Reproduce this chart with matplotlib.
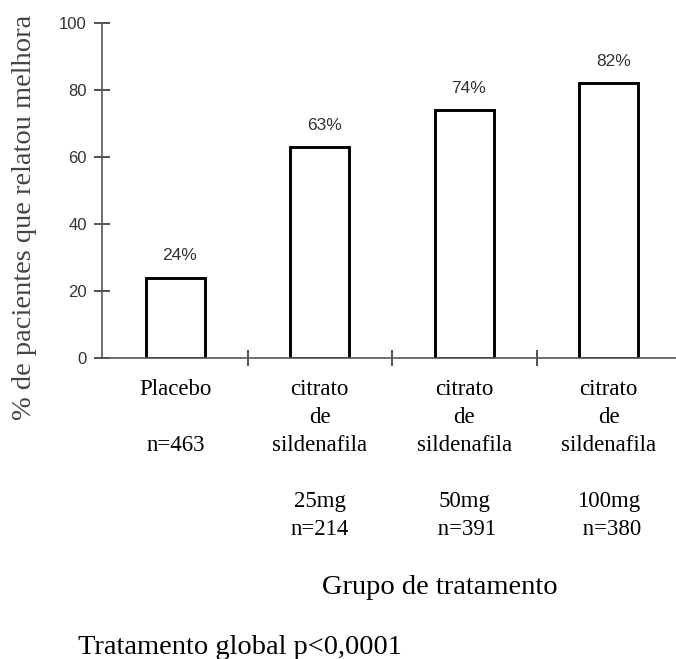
import matplotlib
matplotlib.use("Agg")
import matplotlib.pyplot as plt

# data
groups = [
    "Placebo\n\nn=463",
    "citrato\nde\nsildenafila\n\n25mg\nn=214",
    "citrato\nde\nsildenafila\n\n50mg\n n=391",
    "citrato\nde\nsildenafila\n\n100mg\n n=380",
]
improved = [24, 63, 74, 82]
value_labels = ["24%", "63%", "74%", "82%"]
yticks = [0, 20, 40, 60, 80, 100]

serif = "Liberation Serif"
sans = "Liberation Sans"
axis_gray = "#555555"

fig = plt.figure(figsize=(6.76, 6.59), dpi=100)
ax = fig.add_axes([102 / 676, 1 - 358 / 659, 1 - 102 / 676, (358 - 23) / 659])

x = list(range(len(improved)))
ax.bar(x, improved, width=0.41, color="white", edgecolor="black", linewidth=2.1, zorder=1)

for xi, v, lab in zip(x, improved, value_labels):
    ax.text(xi + 0.03, v + 6.5, lab, ha="center", va="center",
            fontsize=12.5, family=sans, color="#333333")

ax.set_xlim(-0.507, 3.465)
ax.set_ylim(0, 100)

for side in ("top", "right"):
    ax.spines[side].set_visible(False)
for side in ("left", "bottom"):
    ax.spines[side].set_color(axis_gray)
    ax.spines[side].set_linewidth(1.2)

ax.set_yticks(yticks)
ax.set_yticklabels([str(t) for t in yticks], family=sans, fontsize=12, color="#333333")
ax.tick_params(axis="y", direction="inout", length=11, width=1.2, color="#333333", pad=5.5)

# separator ticks between groups, labels at the group centres
ax.set_xticks([0.5, 1.5, 2.5])
ax.set_xticklabels([])
ax.tick_params(axis="x", which="major", direction="inout", length=12, width=1.2, color="#333333")
ax.set_xticks(x, minor=True)
ax.set_xticklabels(groups, minor=True, family=serif, fontsize=16.5, linespacing=1.44)
ax.tick_params(axis="x", which="minor", length=0, pad=15)

fig.text(25 / 676, 1 - 217 / 659, "% de pacientes que relatou melhora", rotation=90,
         ha="center", va="center", family=serif, fontsize=20.5, color="#444444")
fig.text(440 / 676, 1 - 587 / 659, "Grupo de tratamento", ha="center", va="center",
         family=serif, fontsize=20.5, color="black")
fig.text(78 / 676, 1 - 647 / 659, "Tratamento global p<0,0001", ha="left", va="center",
         family=serif, fontsize=20.5, color="black")

fig.savefig("out.png", dpi=100)
